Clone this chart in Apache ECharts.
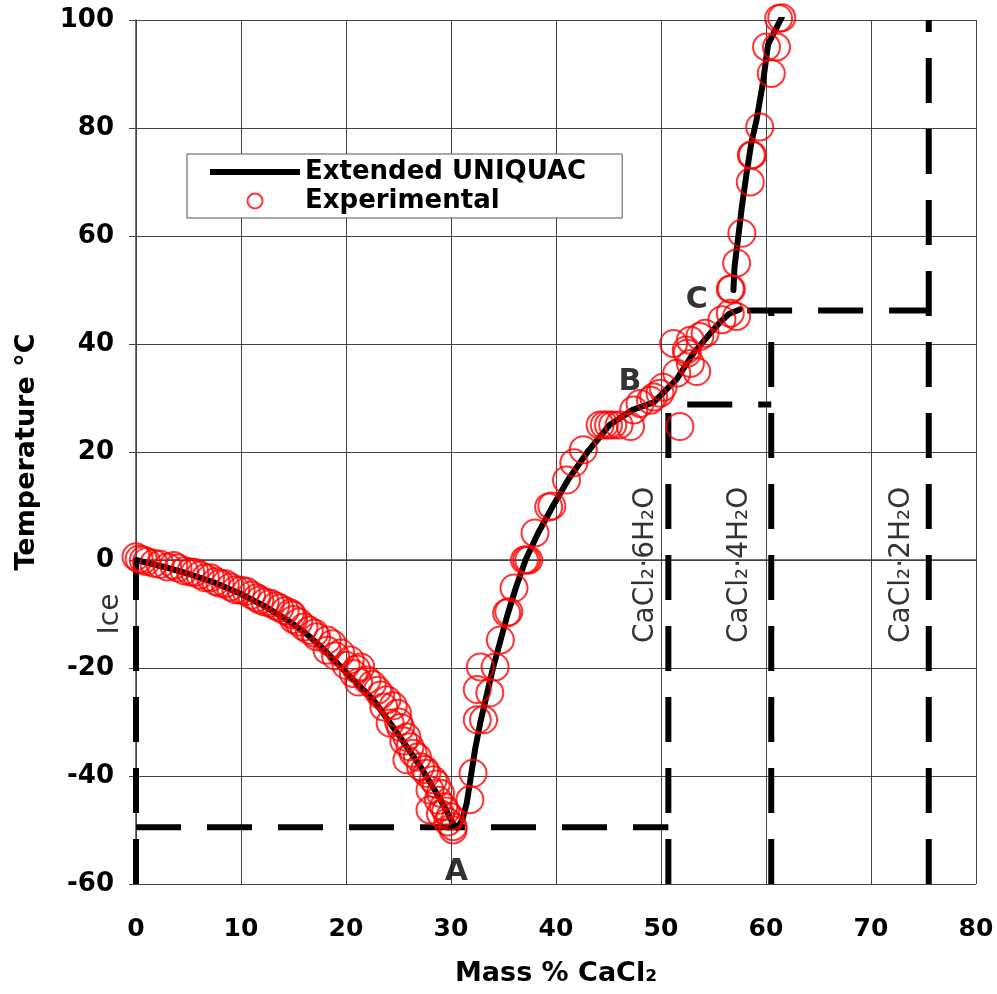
<!DOCTYPE html>
<html><head><meta charset="utf-8">
<script src="https://cdn.jsdelivr.net/npm/echarts@6/dist/echarts.min.js"></script>
<style>html,body{margin:0;padding:0;background:#fff}#c{width:997px;height:994px}</style>
</head><body><div id="c"></div>
<script>
// ---- data ----
const xRange = [0, 80, 10];
const yRange = [-60, 100, 20];
// Extended UNIQUAC model: ice + hexahydrate + tetrahydrate branch
const modelLow = [[0,0],[2.5,-1.2],[4.9,-2.5],[7.5,-4.2],[9.9,-6.2],[12.2,-8.5],[14.4,-11.1],[16,-13.3],[17.6,-16],[20.1,-21],[22.6,-25.9],[24.9,-32.1],[27.1,-38.3],[29,-44.4],[30.2,-48.8],[30.6,-49.6],[31.1,-48],[31.5,-45],[31.9,-40],[32.3,-35],[32.8,-30],[33.4,-25],[34.0,-20],[34.7,-15],[35.4,-10],[36.2,-5],[37.1,0],[38.3,5],[39.7,10],[41.2,15],[43.0,20],[45.1,25],[47.3,27.8],[49.3,29.2],[51.5,33.5],[53.1,38.3],[54.7,42],[55.6,44],[56.5,45.6],[57.5,46.4]];
// Extended UNIQUAC model: dihydrate branch
const modelHigh = [[56.9,50],[57.0,54.3],[57.4,60.5],[57.7,65.4],[58.15,71.6],[58.6,77.2],[59.1,81.5],[59.7,88.3],[60.2,95.5],[61.5,100.5]];
// Experimental points
const experimental = [
[0,0.6],[0.3,0.2],[0.7,0],[1,-0.3],[1.7,-0.6],[2.3,-0.8],[3,-1.3],[3.6,-1],[4,-1.5],[4.6,-2],[5.2,-2.2],[5.6,-2.3],[6.1,-2.8],[6.6,-3.3],[7.1,-3.3],[7.6,-4],[8,-4.3],[8.5,-4.4],[9,-5],[9.5,-5.5],[10,-5.6],[10.5,-5.8],[11,-6.5],[11.5,-7],[11.8,-7.4],[12.3,-7.8],[12.8,-8],[13.3,-8.5],[13.7,-8.9],[14.2,-9.4],[14.7,-9.8],[14.9,-10.2],[15,-11],[15.5,-11.5],[16,-12.4],[16.5,-13],[17,-13.5],[17.2,-14.2],[18.2,-14.8],[18.7,-15.5],[18.2,-16.7],[19.5,-17.2],[19,-17.8],[20.4,-18.5],[20,-19.5],[21.4,-19.8],[21,-20.2],[20.7,-21],[22,-22.2],[21.2,-22.6],[22.5,-23],[23,-24.1],[23.3,-25],[23.9,-25.9],[24.5,-27],[23.6,-27.2],[24.9,-28.4],[25,-30],[24.2,-30.2],[25.2,-31],[25.8,-32.8],[25.5,-33.5],[26.1,-34.6],[26.4,-35.8],[26.8,-36.5],[25.8,-37],[27.1,-38.3],[27.5,-38.8],[27.7,-39.5],[28.3,-40.7],[28.6,-41.5],[28,-42.6],[29,-43.2],[28.8,-44.5],[28,-46.3],[29.3,-45.7],[29.5,-46.5],[29.9,-47.5],[29,-47],[29.7,-48.5],[30.2,-49.4],[30.2,-50],
[31.8,-44.4],[32.1,-39.5],[32.5,-29.6],[33.1,-29.6],[32.5,-24],[32.8,-19.8],[33.7,-24.6],[34.2,-19.8],[34.7,-14.8],[35.3,-9.8],[35.5,-9.6],[36,-5.2],[37.0,0],[37.2,0],[37.4,0],[38,5],[39.3,9.8],[39.6,10],[41,14.8],[41.7,18],[42.6,20.4],[44.2,25],[44.6,25],[45,25],[45.4,25],[46,25],[47.1,24.7],[47.4,27.8],[48,29],[49,29.6],[49.3,30.2],[49.9,30.9],[50.2,32],[51.8,24.7],[51.5,34.6],[52.5,38.3],[52.8,36.4],[53.4,34.9],[51.2,40.1],[52.4,38.9],[52.8,40.7],[53.7,41.4],[54.2,42],[55.8,44.5],[56.6,45.7],[57.2,45.1],
[56.6,50.2],[56.7,50.2],[57.2,55],[57.7,60.5],[58.5,70],[58.6,75],[58.7,75],[59.4,80.2],[60.5,90.1],[60.05,95],[61,95],[61.2,100.3],[61.5,100.4]
];
// Phase boundaries (dashed)
const iceBoundary = [[0,-60],[0,0]];
const eutectic = [[0,-49.5],[50.7,-49.5]];
const hexaBoundary = [[50.7,-60],[50.7,29]];
const transitionB = [[52.5,28.8],[60.5,28.8]];
const tetraBoundary = [[60.5,-60],[60.5,46.2]];
const transitionC = [[58.2,46.2],[75.5,46.2]];
const diBoundary = [[75.5,-60],[75.5,100]];
// Annotations [x, y, text]
const pointLabels = [[30.5,-57.8,'A'],[47.05,33,'B'],[53.4,48.1,'C']];
const phaseLabels = [[48.5,-0.9,'CaCl₂·6H₂O'],[57.5,-0.9,'CaCl₂·4H₂O'],[72.9,-0.9,'CaCl₂·2H₂O'],[-2.4,-10,'Ice']];

const FONT = 'DejaVu Sans';
const dashStyle = {color:'#000', width:6, type:[45,26], cap:'butt'};
function boundary(d){
  return {type:'line', data:d, symbol:'none', silent:true, lineStyle:dashStyle, z:2, clip:false};
}
const chart = echarts.init(document.getElementById('c'), null, {renderer:'canvas'});
chart.setOption({
  animation:false,
  backgroundColor:'#fff',
  grid:{left:136, right:21, top:20, bottom:110, show:false},
  xAxis:{type:'value', min:xRange[0], max:xRange[1], interval:xRange[2],
    name:'Mass % CaCl₂', nameLocation:'middle', nameGap:76,
    nameTextStyle:{fontFamily:FONT, fontWeight:'bold', fontSize:27, color:'#000'},
    axisLine:{lineStyle:{color:'#444', width:1.5}},
    axisTick:{show:true, length:7, inside:false, lineStyle:{color:'#444'}},
    axisLabel:{fontFamily:FONT, fontWeight:'bold', fontSize:25, color:'#000', margin:33},
    splitLine:{show:true, lineStyle:{color:'#444', width:1}}},
  yAxis:{type:'value', min:yRange[0], max:yRange[1], interval:yRange[2],
    name:'Temperature °C', nameLocation:'middle', nameGap:96, nameRotate:90,
    nameTextStyle:{fontFamily:FONT, fontWeight:'bold', fontSize:27, color:'#000'},
    axisLine:{show:true, lineStyle:{color:'#444', width:1.5}},
    axisTick:{show:true, length:7, inside:false, lineStyle:{color:'#444'}},
    axisLabel:{fontFamily:FONT, fontWeight:'bold', fontSize:26, color:'#000', margin:22},
    splitLine:{show:true, lineStyle:{color:'#444', width:1}}},
  legend:{
    orient:'vertical', left:187, top:154,
    data:[{name:'Extended UNIQUAC', icon:'path://M0,0H90V6H0Z'},{name:'Experimental', icon:'circle'}],
    itemWidth:90, itemHeight:15, itemGap:3, itemTextGap:8,
    backgroundColor:'#fff', borderColor:'#555', borderWidth:1,
    padding:[5,36,4,23],
    textStyle:{fontFamily:FONT, fontWeight:'bold', fontSize:26, color:'#000', lineHeight:25}
  },
  series:[
    {name:'Extended UNIQUAC', type:'line', data:modelLow, symbol:'none', smooth:false,
     lineStyle:{color:'#000', width:6, cap:'round', join:'round'}, itemStyle:{color:'#000'}, z:3},
    {name:'Extended UNIQUAC', type:'line', data:modelHigh, symbol:'none', smooth:false,
     lineStyle:{color:'#000', width:6, cap:'round', join:'round'}, itemStyle:{color:'#000'}, z:3},
    boundary(iceBoundary), boundary(eutectic), boundary(hexaBoundary), boundary(transitionB),
    boundary(tetraBoundary), boundary(transitionC), boundary(diBoundary),
    {name:'Experimental', type:'scatter', data:experimental, symbol:'circle', symbolSize:27, clip:false,
     itemStyle:{color:'rgba(255,255,255,0)', borderColor:'#ff0000', borderWidth:2}, z:4},
    {type:'scatter', data:pointLabels, symbolSize:0, silent:true, clip:false, z:5,
     label:{show:true, position:'inside', formatter:p=>p.data[2], fontFamily:FONT, fontWeight:'bold', fontSize:30, color:'#000'}},
    {type:'scatter', data:phaseLabels, symbolSize:0, silent:true, clip:false, z:5,
     label:{show:true, position:'inside', rotate:90, formatter:p=>p.data[2], fontFamily:FONT, fontSize:28, color:'#000'}}
  ]
});
</script></body></html>
